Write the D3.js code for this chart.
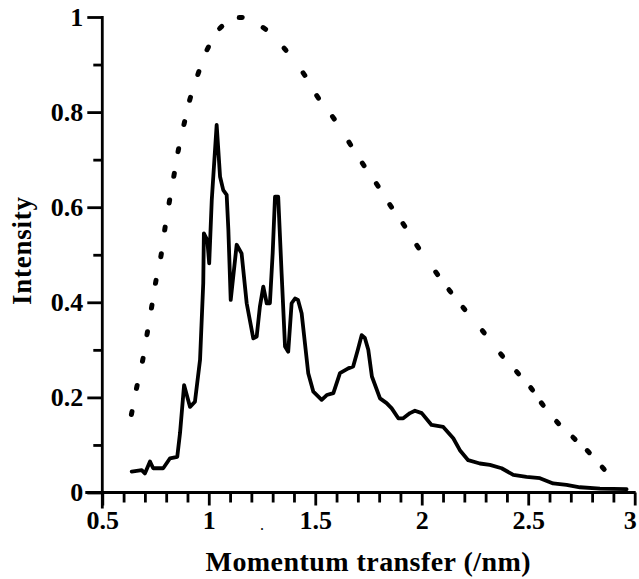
<!DOCTYPE html>
<html><head><meta charset="utf-8">
<script src="https://cdn.jsdelivr.net/npm/d3@7/dist/d3.min.js"></script>
<style>body{margin:0;background:#fff}svg{display:block}</style>
</head><body><svg id="c" width="639" height="579"></svg>
<script>
// ---- data ----
const solidQ = [0.638,0.685,0.700,0.724,0.739,0.786,0.818,0.852,0.865,0.884,0.912,0.935,0.959,0.974,0.977,0.993,1.002,1.014,1.037,1.053,1.068,1.084,1.092,1.103,1.131,1.154,1.178,1.209,1.225,1.240,1.256,1.272,1.287,1.300,1.311,1.326,1.342,1.358,1.373,1.389,1.405,1.419,1.436,1.467,1.491,1.530,1.554,1.585,1.616,1.655,1.678,1.700,1.718,1.733,1.749,1.766,1.804,1.835,1.859,1.890,1.913,1.945,1.968,2.000,2.046,2.101,2.148,2.179,2.218,2.273,2.320,2.375,2.430,2.492,2.555,2.617,2.680,2.743,2.837,2.962];
const solidI = [0.044,0.047,0.040,0.065,0.051,0.051,0.072,0.075,0.125,0.226,0.180,0.191,0.279,0.440,0.545,0.531,0.482,0.615,0.773,0.664,0.636,0.626,0.552,0.405,0.521,0.503,0.398,0.324,0.328,0.391,0.433,0.398,0.398,0.503,0.622,0.622,0.461,0.307,0.296,0.398,0.408,0.405,0.377,0.251,0.212,0.195,0.205,0.209,0.251,0.261,0.265,0.300,0.331,0.325,0.300,0.244,0.198,0.188,0.177,0.156,0.156,0.167,0.172,0.167,0.142,0.138,0.114,0.089,0.068,0.061,0.058,0.051,0.037,0.033,0.030,0.019,0.016,0.011,0.008,0.007];
const dotQ = [0.638,0.662,0.690,0.711,0.732,0.751,0.776,0.794,0.815,0.837,0.857,0.885,0.912,0.951,0.995,1.056,1.150,1.261,1.358,1.447,1.511,1.585,1.662,1.725,1.791,1.854,1.916,1.981,2.070,2.132,2.198,2.289,2.375,2.450,2.516,2.566,2.638,2.715,2.782,2.852];
const dotI = [0.167,0.222,0.279,0.335,0.391,0.443,0.499,0.555,0.612,0.668,0.720,0.777,0.828,0.882,0.934,0.978,0.999,0.976,0.932,0.880,0.832,0.788,0.734,0.690,0.647,0.603,0.563,0.517,0.461,0.424,0.387,0.338,0.289,0.252,0.218,0.186,0.147,0.114,0.086,0.051];
const xTicks = [0.5,1,1.5,2,2.5,3];
const yTicks = [0,0.2,0.4,0.6,0.8,1];
const xMinor = [0.6,0.7,0.8,0.9,1.1,1.2,1.3,1.4,1.6,1.7,1.8,1.9,2.1,2.2,2.3,2.4,2.6,2.7,2.8,2.9];
const yMinor = [0.1,0.3,0.5,0.7,0.9];
const xTitle = "Momentum transfer (/nm)";
const yTitle = "Intensity";

// ---- chart ----
const svg = d3.select("#c");
const x = d3.scaleLinear().domain([0.5, 3]).range([102.3, 634.7]);
const y = d3.scaleLinear().domain([0, 1]).range([492.5, 17]);
const FONT = "'Liberation Serif','Times New Roman',serif";
const AW = 2.8;

// minor ticks (no labels)
const xMin = svg.append("g").attr("transform", `translate(0,${y(0)})`)
  .call(d3.axisBottom(x).tickValues(xMinor).tickSize(10).tickFormat(""));
const yMin = svg.append("g").attr("transform", `translate(${x(0.5)},0)`)
  .call(d3.axisLeft(y).tickValues(yMinor).tickSize(9).tickFormat(""));
// major ticks with labels
const xAx = svg.append("g").attr("transform", `translate(0,${y(0)})`)
  .call(d3.axisBottom(x).tickValues(xTicks).tickSize(13).tickPadding(5).tickFormat(d3.format("")));
const yAx = svg.append("g").attr("transform", `translate(${x(0.5)},0)`)
  .call(d3.axisLeft(y).tickValues(yTicks).tickSize(15).tickPadding(4).tickFormat(d3.format("")));

[xMin, yMin, xAx, yAx].forEach(g => {
  g.select(".domain").remove();
  g.selectAll(".tick line").attr("stroke", "#000").attr("stroke-width", AW);
  g.selectAll("text").attr("fill", "#000").attr("font-family", FONT)
    .attr("font-weight", "bold").attr("font-size", 26);
});
// keep the last x label inside the picture
xAx.selectAll(".tick text").filter(d => d === 3).attr("dx", -5);

// axis lines (cross at origin)
svg.append("line").attr("x1", x(0.5) - 17).attr("x2", x(3) + 1)
  .attr("y1", y(0)).attr("y2", y(0)).attr("stroke", "#000").attr("stroke-width", AW);
svg.append("line").attr("x1", x(0.5)).attr("x2", x(0.5))
  .attr("y1", y(1) - 1).attr("y2", y(0) + 16).attr("stroke", "#000").attr("stroke-width", AW);

// dotted curve: short dashes oriented along the curve
const dpts = dotQ.map((q, i) => [x(q), y(dotI[i])]);
dpts.forEach((p, i) => {
  const a = dpts[Math.max(0, i - 1)], b = dpts[Math.min(dpts.length - 1, i + 1)];
  let dx = b[0] - a[0], dy = b[1] - a[1];
  const L = Math.hypot(dx, dy) || 1; dx /= L; dy /= L;
  const h = 1.5;
  svg.append("line")
    .attr("x1", p[0] - dx * h).attr("y1", p[1] - dy * h)
    .attr("x2", p[0] + dx * h).attr("y2", p[1] + dy * h)
    .attr("stroke", "#000").attr("stroke-width", 5).attr("stroke-linecap", "round");
});

// solid curve
const line = d3.line().x((d, i) => x(solidQ[i])).y((d, i) => y(solidI[i]));
svg.append("path").datum(solidQ).attr("d", line)
  .attr("fill", "none").attr("stroke", "#000").attr("stroke-width", 3.8)
  .attr("stroke-linejoin", "round").attr("stroke-linecap", "round");

// stray speck between tick labels
svg.append("text").attr("x", x(1.25)).attr("y", 530).attr("text-anchor", "middle")
  .attr("font-family", FONT).attr("font-size", 16).attr("fill", "#000").text(".");

// titles
svg.append("text").attr("x", 368).attr("y", 571).attr("text-anchor", "middle")
  .attr("font-family", FONT).attr("font-weight", "bold").attr("font-size", 28)
  .attr("textLength", 325).attr("lengthAdjust", "spacing").attr("fill", "#000").text(xTitle);
svg.append("text").attr("transform", "translate(31,251) rotate(-90)").attr("text-anchor", "middle")
  .attr("font-family", FONT).attr("font-weight", "bold").attr("font-size", 27)
  .attr("textLength", 108).attr("lengthAdjust", "spacing").attr("fill", "#000").text(yTitle);
</script></body></html>
